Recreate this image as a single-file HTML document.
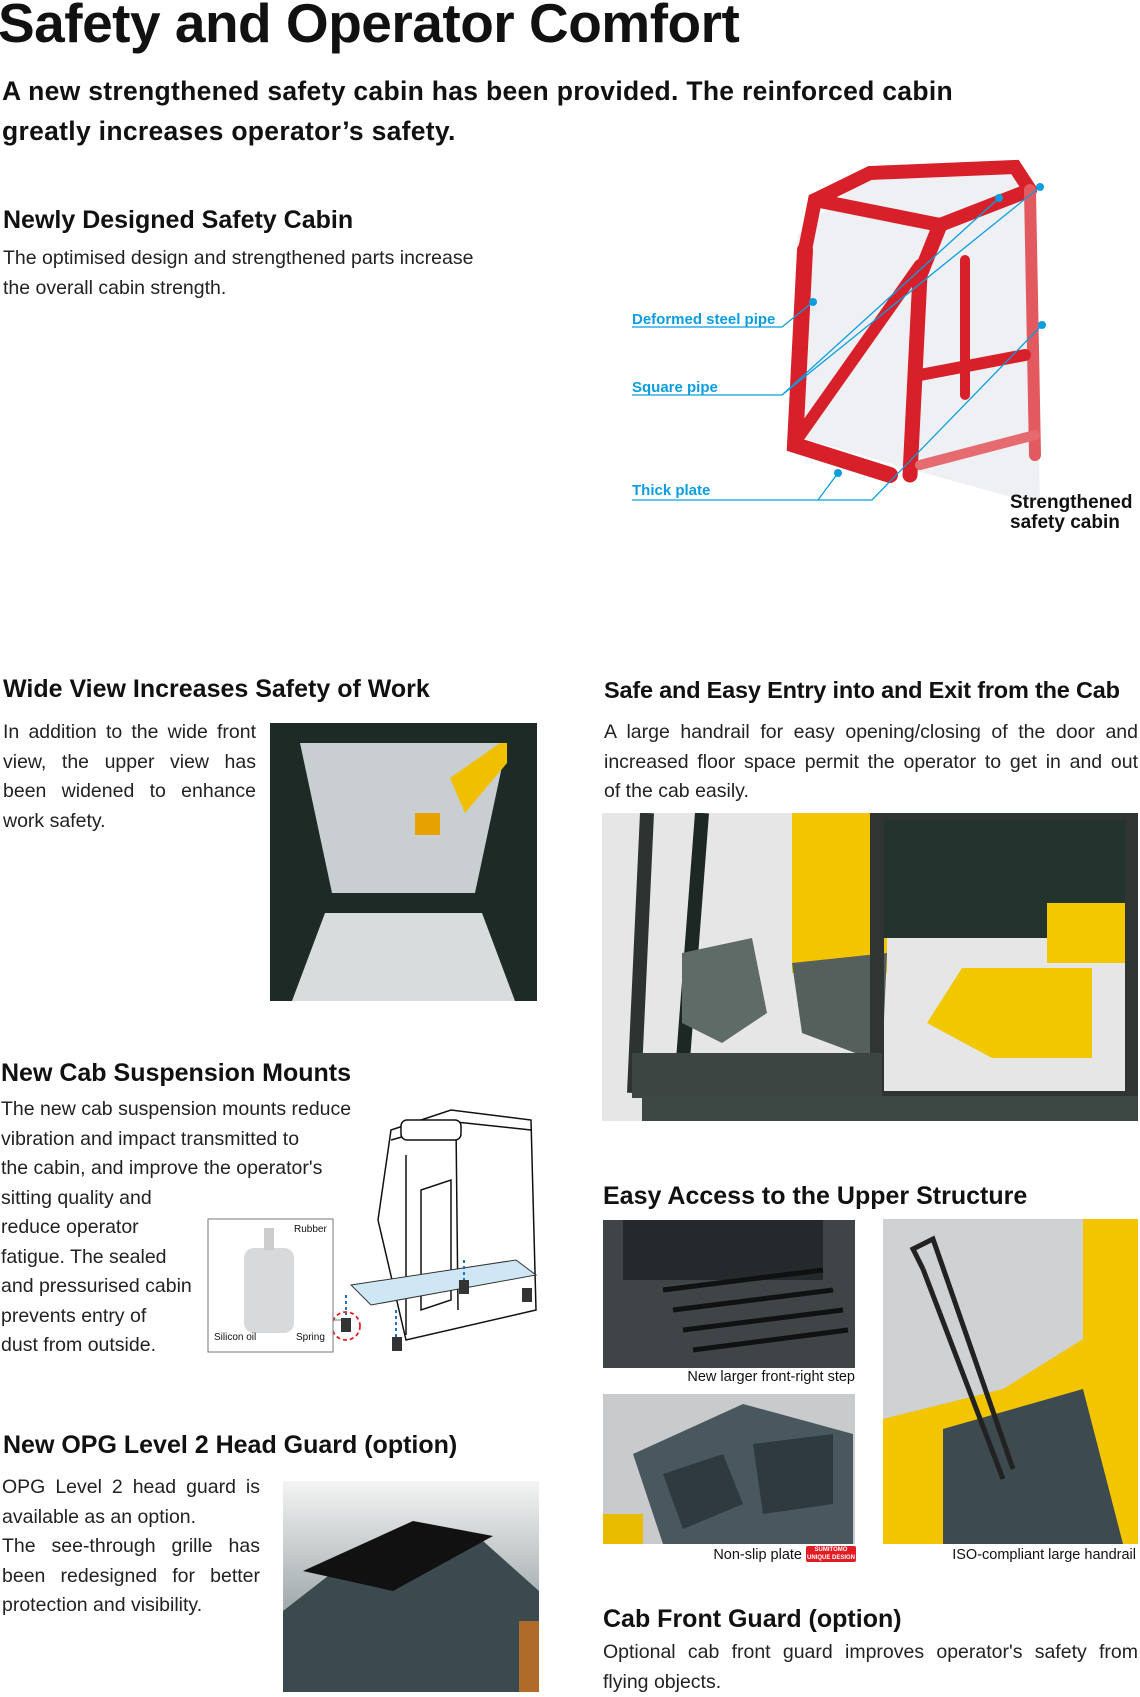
<!DOCTYPE html>
<html><head><meta charset="utf-8"><style>
*{margin:0;padding:0;box-sizing:border-box}
body{width:1140px;height:1692px;background:#fff;position:relative;overflow:hidden;font-family:"Liberation Sans",sans-serif;color:#111}
.a{position:absolute;white-space:nowrap}
h1{position:absolute;left:-2px;top:-9px;font-size:55px;font-weight:bold;letter-spacing:-0.5px}
.sub{font-size:26.5px;font-weight:bold;letter-spacing:0.3px}
.h{font-size:25px;font-weight:bold;position:absolute;white-space:nowrap}
.p{position:absolute;font-size:19.5px;line-height:29.5px;color:#222}
.j div{text-align:justify;text-align-last:justify;white-space:nowrap}
.j div.l{text-align-last:left}
.lbl{position:absolute;font-size:15px;color:#0a9ee0;font-weight:bold;white-space:nowrap}
.cap{position:absolute;font-size:14.5px;white-space:nowrap}
</style></head><body>
<h1>Safety and Operator Comfort</h1>
<div class="a sub" style="left:2px;top:76px">A new strengthened safety cabin has been provided. The reinforced cabin</div>
<div class="a sub" style="left:2px;top:116px">greatly increases operator’s safety.</div>

<div class="h" style="left:3px;top:206px">Newly Designed Safety Cabin</div>
<div class="p" style="left:3px;top:244px;width:520px">The optimised design and strengthened parts increase<br>the overall cabin strength.</div>

<svg class="a" style="left:620px;top:155px" width="520" height="390">
 <polygon points="200,60 250,18 395,12 415,40 420,350 275,310 172,280 178,80" fill="#eef0f3"/>
 <g fill="none" stroke="#d8202a" stroke-linecap="round">
  <path d="M185,95 L195,45 L250,18 L395,12 L410,35" stroke-width="14"/>
  <path d="M195,45 L320,70 L410,35" stroke-width="14"/>
  <path d="M185,95 L175,290 L270,320" stroke-width="16"/>
  <path d="M320,70 L300,120 L290,320" stroke-width="15"/>
  <path d="M410,35 L415,300" stroke-width="12" stroke="#e25a60"/>
  <path d="M180,280 L300,110" stroke-width="12"/>
  <path d="M300,220 L405,200" stroke-width="12"/>
  <path d="M345,105 L345,240" stroke-width="10"/>
  <path d="M300,310 L415,280" stroke-width="10" stroke="#e56b70"/>
 </g>
 <g fill="#0a9ee0"><circle cx="379" cy="43" r="4"/><circle cx="420" cy="32" r="4"/><circle cx="193" cy="147" r="4"/><circle cx="422" cy="170" r="4"/><circle cx="218" cy="318" r="4"/></g>
 <g stroke="#0a9ee0" stroke-width="1.3" fill="none">
  <path d="M12,172 L162,172 L193,147"/>
  <path d="M12,240 L162,240 L379,43"/>
  <path d="M12,345 L198,345 L218,318 M198,345 L252,345 L422,170"/>
  <path d="M162,240 L420,32"/>
 </g>
</svg>
<div class="lbl" style="left:632px;top:311px">Deformed steel pipe</div>
<div class="lbl" style="left:632px;top:379px">Square pipe</div>
<div class="lbl" style="left:632px;top:482px">Thick plate</div>
<div class="a" style="left:1010px;top:493px;font-size:19px;font-weight:bold;line-height:20px">Strengthened<br>safety cabin</div>

<div class="h" style="left:3px;top:675px">Wide View Increases Safety of Work</div>
<div class="p j" style="left:3px;top:718px;width:253px"><div>In addition to the wide front</div><div>view, the upper view has</div><div>been widened to enhance</div><div class="l">work safety.</div></div>
<svg class="a" style="left:270px;top:723px" width="267" height="278">
 <rect width="267" height="278" fill="#1e2a26"/>
 <polygon points="30,20 237,20 205,170 62,170" fill="#c9ced0"/>
 <polygon points="55,190 212,190 245,278 22,278" fill="#d8dcdc"/>
 <polygon points="180,55 230,20 237,20 237,40 195,90" fill="#f0c000"/>
 <rect x="145" y="90" width="25" height="22" fill="#e6a300"/>
</svg>

<div class="h" style="left:604px;top:677px;font-size:23.5px;letter-spacing:-0.2px">Safe and Easy Entry into and Exit from the Cab</div>
<div class="p j" style="left:604px;top:718px;width:534px"><div>A large handrail for easy opening/closing of the door and</div><div>increased floor space permit the operator to get in and out</div><div class="l">of the cab easily.</div></div>
<svg class="a" style="left:602px;top:813px" width="536" height="308">
 <rect width="536" height="308" fill="#e6e6e6"/>
 <rect x="190" y="0" width="95" height="160" fill="#f2c500"/>
 <rect x="280" y="0" width="250" height="125" fill="#23332e"/>
 <rect x="445" y="90" width="90" height="60" fill="#f2c800"/>
 <path d="M45,0 L32,280" stroke="#2c3330" stroke-width="14"/>
 <path d="M100,0 L80,260" stroke="#1d2824" stroke-width="14"/>
 <polygon points="80,140 150,125 165,200 120,230 80,210" fill="#5f6b67"/>
 <polygon points="190,150 285,140 280,250 200,220" fill="#55605c"/>
 <rect x="275" y="0" width="255" height="285" fill="none" stroke="#2e3532" stroke-width="14"/>
 <polygon points="325,210 360,155 490,155 490,245 390,245" fill="#f1c700"/>
 <rect x="30" y="240" width="250" height="45" fill="#3c4541"/>
 <rect x="40" y="283" width="496" height="25" fill="#3d4743"/>
</svg>

<div class="h" style="left:1px;top:1059px">New Cab Suspension Mounts</div>
<div class="p" style="left:1px;top:1095px;width:370px;text-align:left">The new cab suspension mounts reduce<br>vibration and impact transmitted to<br>the cabin, and improve the operator's<br>sitting quality and<br>reduce operator<br>fatigue. The sealed<br>and pressurised cabin<br>prevents entry of<br>dust from outside.</div>
<svg class="a" style="left:206px;top:1100px" width="340" height="275">
 <g fill="#fff" stroke="#111" stroke-width="1.5">
  <polygon points="185,30 245,10 325,20 330,210 200,240 172,120"/>
  <path d="M185,40 L250,22 L325,30 M200,55 L200,235 M250,25 L252,210 M215,90 L245,80 L245,200 L215,210 Z" fill="none"/>
  <rect x="195" y="20" width="60" height="20" rx="6"/>
 </g>
 <polygon points="145,185 310,160 330,175 165,205" fill="#cfe7f5" stroke="#333"/>
 <g fill="#333"><rect x="253" y="180" width="10" height="14"/><rect x="316" y="188" width="10" height="14"/><rect x="186" y="237" width="10" height="14"/><rect x="135" y="218" width="10" height="14"/></g>
 <circle cx="140" cy="226" r="14" fill="none" stroke="#d22" stroke-width="1.8" stroke-dasharray="4,3"/>
 <path d="M190,210 L190,240 M258,160 L258,180 M140,195 L140,215" stroke="#1a6fd0" stroke-width="2" stroke-dasharray="3,3"/>
 <rect x="2" y="119" width="125" height="133" fill="#fff" stroke="#777"/>
 <rect x="38" y="148" width="50" height="85" rx="10" fill="#d7d9db"/>
 <rect x="58" y="128" width="10" height="22" fill="#ccc"/>
 <path d="M127,220 L135,220" stroke="#777"/>
</svg>
<div class="cap" style="left:294px;top:1224px;font-size:10px">Rubber</div>
<div class="cap" style="left:214px;top:1332px;font-size:10px">Silicon oil</div>
<div class="cap" style="left:296px;top:1332px;font-size:10px">Spring</div>

<div class="h" style="left:603px;top:1182px">Easy Access to the Upper Structure</div>
<svg class="a" style="left:603px;top:1220px" width="252" height="148"><rect width="252" height="148" fill="#3f4446"/><rect x="20" y="0" width="200" height="60" fill="#24292b"/><g stroke="#111" stroke-width="5"><path d="M60,70 L220,50 M70,90 L230,70 M80,110 L240,90 M90,130 L245,110"/></g></svg>
<div class="cap" style="right:285px;top:1369px">New larger front-right step</div>
<svg class="a" style="left:603px;top:1394px" width="252" height="150"><rect width="252" height="150" fill="#c8cacb"/><polygon points="30,60 140,10 250,40 250,150 60,150" fill="#49575e"/><polygon points="60,80 120,60 140,110 80,135" fill="#2f3a40"/><polygon points="150,50 230,40 230,110 160,120" fill="#2f3a40"/><rect x="0" y="120" width="40" height="30" fill="#e8bd00"/></svg>
<div class="cap" style="right:338px;top:1547px">Non-slip plate</div>
<div class="a" style="left:806px;top:1546px;width:50px;height:16px;background:#e31c23;border-radius:2px;color:#fff;font-size:6px;font-weight:bold;text-align:center;line-height:8px;overflow:hidden">SUMITOMO<br>UNIQUE DESIGN</div>
<svg class="a" style="left:883px;top:1219px" width="255" height="325"><rect width="255" height="325" fill="#cfd1d3"/><polygon points="200,0 255,0 255,325 0,325 0,200 120,170 200,120" fill="#f2c500"/><polygon points="60,210 200,170 240,325 60,325" fill="#3d4a50"/><path d="M40,50 L30,30 L50,20 L130,250 M40,50 L120,260" stroke="#222" stroke-width="5" fill="none"/></svg>
<div class="cap" style="right:4px;top:1547px">ISO-compliant large handrail</div>

<div class="h" style="left:3px;top:1431px">New OPG Level 2 Head Guard (option)</div>
<div class="p j" style="left:2px;top:1473px;width:258px"><div>OPG Level 2 head guard is</div><div class="l">available as an option.</div><div>The see-through grille has</div><div>been redesigned for better</div><div class="l">protection and visibility.</div></div>
<svg class="a" style="left:283px;top:1481px" width="256" height="211"><defs><linearGradient id="g" x1="0" y1="0" x2="0" y2="1"><stop offset="0" stop-color="#f4f4f4"/><stop offset="1" stop-color="#6b7a7d"/></linearGradient></defs><rect width="256" height="211" fill="url(#g)"/><polygon points="0,130 90,60 200,60 256,110 256,211 0,211" fill="#3a4a4e"/><polygon points="20,90 130,40 210,55 110,110" fill="#111"/><rect x="236" y="140" width="20" height="71" fill="#b06a2a"/></svg>

<div class="h" style="left:603px;top:1605px">Cab Front Guard (option)</div>
<div class="p j" style="left:603px;top:1638px;width:535px"><div>Optional cab front guard improves operator's safety from</div><div class="l">flying objects.</div></div>
</body></html>
